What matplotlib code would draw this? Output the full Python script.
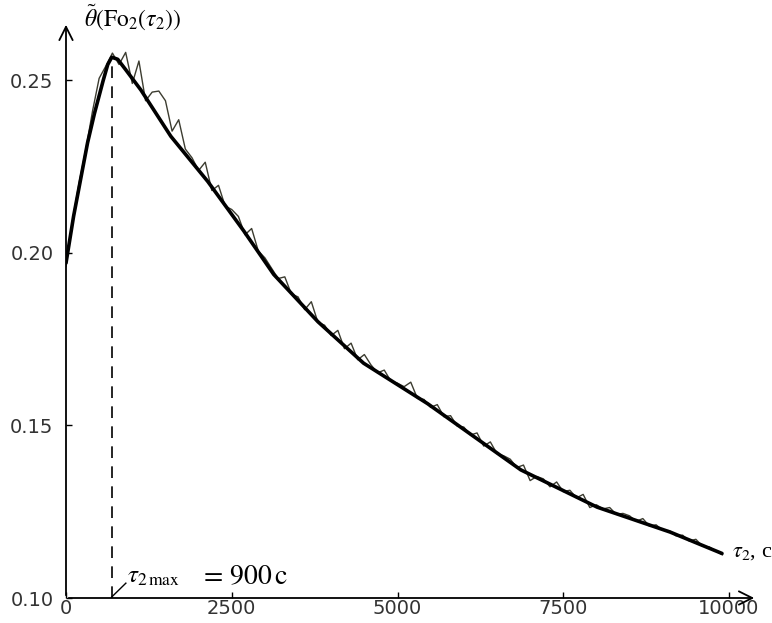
import matplotlib
matplotlib.use("Agg")
import matplotlib.pyplot as plt

plt.rcParams['mathtext.fontset'] = 'stix'

# smooth (approximating) curve
t_fit = [0, 115, 220, 325, 429, 560, 630, 690, 780, 900, 1130, 1581, 2139, 2681,
         3133, 3800, 4488, 5452, 6860, 8012, 9111, 9894]
theta_fit = [0.197, 0.2106, 0.2212, 0.2318, 0.2403, 0.2498, 0.2545, 0.2566,
             0.2560, 0.2530, 0.2471, 0.2337, 0.2206, 0.2063, 0.1937, 0.1800,
             0.1680, 0.1563, 0.1371, 0.1263, 0.1191, 0.1129]

# measured (noisy) curve
t_meas = list(range(0, 10000, 100))
theta_meas = [0.1960, 0.2095, 0.2205, 0.2300, 0.2410, 0.2505, 0.2540, 0.2578, 0.2545, 0.2580,
              0.2490, 0.2555, 0.2440, 0.2465, 0.2468, 0.2440, 0.2352, 0.2385, 0.2300, 0.2275,
              0.2238, 0.2262, 0.2180, 0.2195, 0.2135, 0.2125, 0.2105, 0.2052, 0.2070, 0.2005,
              0.1985, 0.1955, 0.1925, 0.1930, 0.1880, 0.1872, 0.1835, 0.1858, 0.1798, 0.1790,
              0.1760, 0.1775, 0.1722, 0.1738, 0.1690, 0.1705, 0.1675, 0.1652, 0.1660, 0.1628,
              0.1622, 0.1612, 0.1625, 0.1578, 0.1575, 0.1552, 0.1560, 0.1525, 0.1528, 0.1498,
              0.1495, 0.1472, 0.1478, 0.1440, 0.1452, 0.1418, 0.1412, 0.1402, 0.1378, 0.1385,
              0.1340, 0.1352, 0.1345, 0.1322, 0.1336, 0.1308, 0.1312, 0.1290, 0.1300, 0.1262,
              0.1270, 0.1258, 0.1262, 0.1242, 0.1245, 0.1238, 0.1222, 0.1230, 0.1208, 0.1212,
              0.1196, 0.1195, 0.1180, 0.1182, 0.1165, 0.1170, 0.1150, 0.1148, 0.1136, 0.1125]

t_max = 690
theta_max = 0.2566

x_ticks = [0, 2500, 5000, 7500, 10000]
y_ticks = [0.10, 0.15, 0.20, 0.25]
y_tick_labels = ['0.10', '0.15', '0.20', '0.25']

fig = plt.figure(figsize=(7.72, 6.23), dpi=100)
ax = fig.add_axes([66 / 772, 25 / 623, 691 / 772, 576 / 623])

ax.plot(t_meas, theta_meas, color='#3c3c30', lw=1.0)
ax.plot(t_fit, theta_fit, color='black', lw=2.6, solid_capstyle='round')
ax.plot([t_max, t_max], [0.10, theta_max], color='black', lw=1.2, dashes=(7, 5))

ax.set_xlim(0, 10422)
ax.set_ylim(0.10, 0.2668)

for s in ax.spines.values():
    s.set_visible(False)
ax.annotate('', xy=(1, 0), xytext=(0, 0), xycoords='axes fraction',
            arrowprops=dict(arrowstyle='->', lw=1.3, color='black', mutation_scale=24))
ax.annotate('', xy=(0, 1), xytext=(0, 0), xycoords='axes fraction',
            arrowprops=dict(arrowstyle='->', lw=1.3, color='black', mutation_scale=24))

ax.set_xticks(x_ticks)
ax.set_xticklabels([str(v) for v in x_ticks])
ax.set_yticks(y_ticks)
ax.set_yticklabels(y_tick_labels)
ax.tick_params(direction='in', length=4, width=1, labelsize=14)
ax.tick_params(axis='x', pad=1)
ax.tick_params(axis='y', pad=9)
for lab in ax.get_xticklabels() + ax.get_yticklabels():
    lab.set_color('#333333')

fig.text(84 / 772, 1 - 17 / 623, r'$\tilde{\theta}(\mathrm{Fo}_2(\tau_2))$',
         fontsize=17, ha='left', va='center')
ax.text(10040, 0.1133, r'$\tau_2$, c', fontsize=16, ha='left', va='center',
        family='Liberation Serif')

ax.plot([t_max, 903], [0.1003, 0.1043], color='black', lw=1.0)
ax.text(920, 0.1063, r'$\tau_{2\,\mathrm{max}}$', fontsize=18, ha='left', va='center')
ax.text(2000, 0.1063, r'$=\,900\,\mathrm{c}$', fontsize=20, ha='left', va='center')

fig.savefig('out.png', dpi=100)
